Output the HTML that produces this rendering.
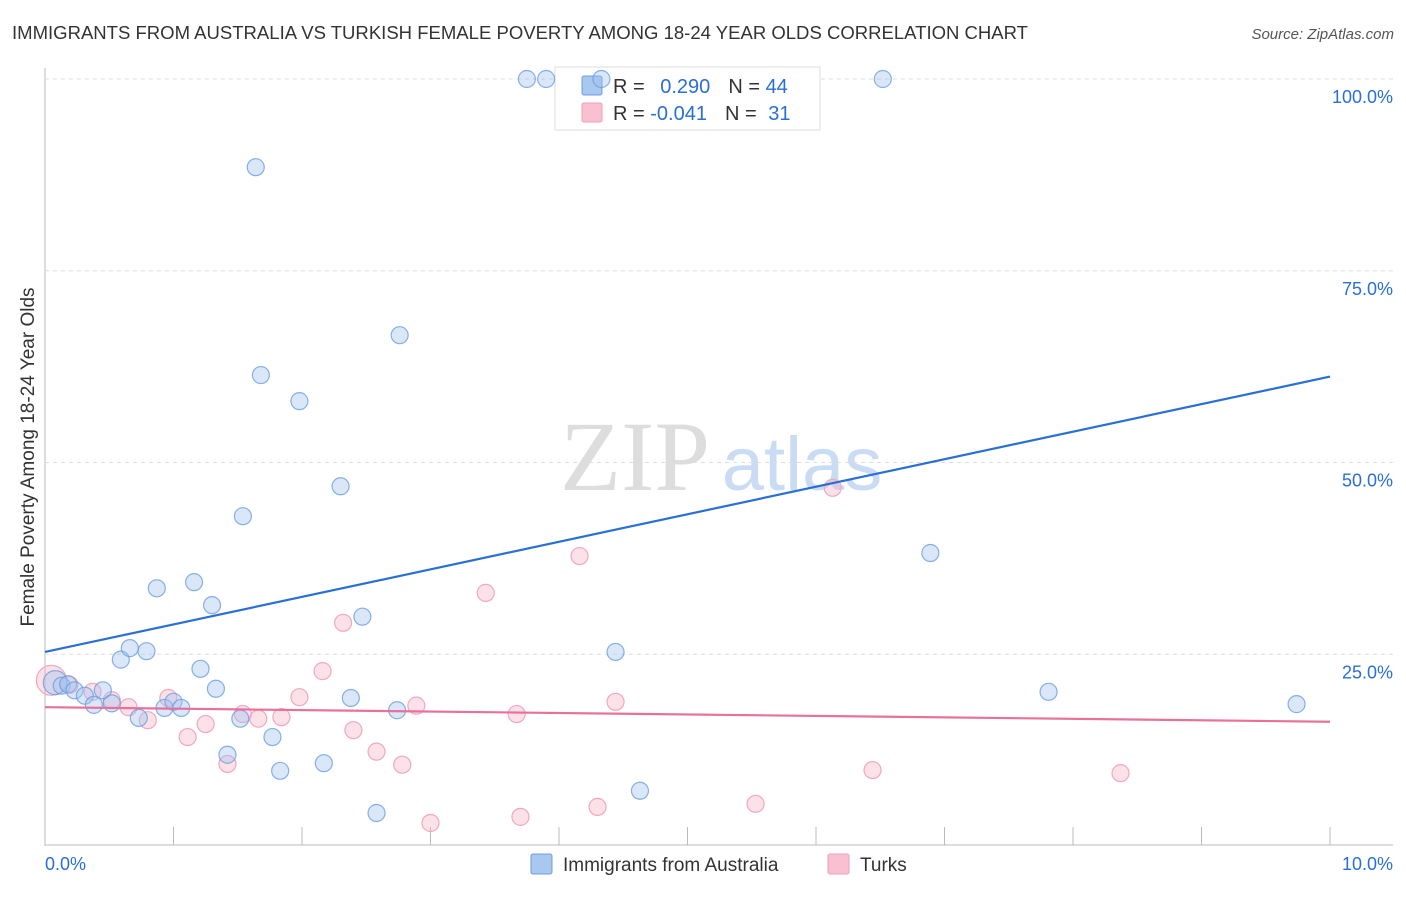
<!DOCTYPE html>
<html><head><meta charset="utf-8"><style>
body{margin:0;background:#fff;font-family:"Liberation Sans",sans-serif}
</style></head><body>
<svg width="1406" height="892" viewBox="0 0 1406 892" id="c" font-family="Liberation Sans, sans-serif">
<text x="12" y="39" font-size="18" fill="#333" textLength="1016" lengthAdjust="spacingAndGlyphs">IMMIGRANTS FROM AUSTRALIA VS TURKISH FEMALE POVERTY AMONG 18-24 YEAR OLDS CORRELATION CHART</text>
<text x="1394" y="39" font-size="15" fill="#555" font-style="italic" text-anchor="end">Source: ZipAtlas.com</text>
<text x="635" y="490" font-size="100" fill="#ddd" style="font-family:'Liberation Serif',serif" text-anchor="middle">ZIP</text>
<text x="802" y="490" font-size="76" fill="#c9dcf3" text-anchor="middle">atlas</text>
<text transform="translate(34,457) rotate(-90)" font-size="19" fill="#333" text-anchor="middle">Female Poverty Among 18-24 Year Olds</text>
<g id="grid"></g>
<g>
<rect x="555" y="67" width="265" height="63" fill="#fff" stroke="#ddd"/>
<rect x="582" y="76" width="20" height="19" fill="#a8c8f0" stroke="#6c9de0" rx="2"/>
<rect x="582" y="103" width="20" height="19" fill="#f8c0d0" stroke="#f0a0b8" rx="2"/>
<text x="613" y="93" font-size="20" fill="#333">R = <tspan fill="#2a6fd6" dx="10">0.290</tspan><tspan fill="#333" dx="18">N = </tspan><tspan fill="#2a6fd6">44</tspan></text>
<text x="613" y="120" font-size="20" fill="#333">R = <tspan fill="#2a6fd6">-0.041</tspan><tspan fill="#333" dx="18">N = </tspan><tspan fill="#2a6fd6" dx="6">31</tspan></text>
</g>
<g id="pts"></g><g id="lines"></g>
<g>
<rect x="531" y="854" width="21" height="20" fill="#a8c8f0" stroke="#6c9de0" rx="2"/>
<text x="563" y="871" font-size="19" fill="#333">Immigrants from Australia</text>
<rect x="828" y="854" width="21" height="20" fill="#f8c0d0" stroke="#f0a0b8" rx="2"/>
<text x="860" y="871" font-size="19" fill="#333">Turks</text>
</g>
</svg>
<script>
const yTicks=[25,50,75,100];
const yTickLabels=["25.0%","50.0%","75.0%","100.0%"];
const xTicks=[0,1,2,3,4,5,6,7,8,9,10];
const xTickLabels=["0.0%","10.0%"];
const blueX=[0.08,0.13,0.18,0.23,0.31,0.38,0.45,0.52,0.59,0.66,0.73,0.79,0.87,0.93,1.00,1.06,1.16,1.21,1.30,1.33,1.42,1.52,1.54,1.64,1.68,1.77,1.83,1.98,2.17,2.30,2.38,2.47,2.58,2.74,2.76,3.75,3.90,4.33,4.44,4.63,6.52,6.89,7.81,9.74];
const blueY=[21.3,20.9,21.1,20.3,19.6,18.4,20.3,18.6,24.3,25.8,16.7,25.4,33.6,18.0,18.8,18.0,34.4,23.1,31.4,20.5,11.9,16.6,43.0,88.5,61.4,14.2,9.8,58.0,10.8,46.9,19.3,29.9,4.3,17.7,66.6,100,100,100,25.3,7.2,100,38.2,20.1,18.5];
const pinkX=[0.05,0.19,0.37,0.52,0.65,0.80,0.96,1.11,1.25,1.42,1.54,1.66,1.84,1.98,2.16,2.32,2.40,2.58,2.78,2.89,3.00,3.43,3.67,3.70,4.16,4.30,4.44,5.53,6.13,6.44,8.37];
const pinkY=[21.6,21.0,20.1,19.0,18.1,16.4,19.3,14.2,15.9,10.7,17.2,16.6,16.8,19.4,22.8,29.1,15.1,12.3,10.6,18.3,3.0,33.0,17.2,3.8,37.8,5.1,18.8,5.5,46.7,9.9,9.5];
const blueTrend=[25.3,61.2];
const pinkTrend=[18.1,16.2];
const X=v=>45+v*128.5, Y=v=>846-v*7.67;
const NS="http://www.w3.org/2000/svg";
function mk(t,a,p){const e=document.createElementNS(NS,t);for(const k in a)e.setAttribute(k,a[k]);p.appendChild(e);return e;}
const g=document.getElementById('grid');
let e=mk('line',{x1:45,y1:68,x2:45,y2:846,stroke:'#bbb'},g);


e=mk('line',{x1:45,y1:845,x2:1393,y2:845,stroke:'#bbb'},g);


yTicks.forEach((t,i)=>{
 e=mk('line',{x1:45,y1:Y(t),x2:1393,y2:Y(t),stroke:'#ddd','stroke-dasharray':'4,4'},g);
 
 
 e=mk('text',{x:1393,y:Y(t)+24,'font-size':18,fill:'#2a6fd6','text-anchor':'end'},g);e.textContent=yTickLabels[i];
 
 
});
xTicks.forEach(t=>{if(t===0)return;
 e=mk('line',{x1:X(t),y1:827,x2:X(t),y2:845,stroke:'#bbb'},g);
 
 
});
e=mk('text',{x:45,y:870,'font-size':18,fill:'#2a6fd6'},g);e.textContent=xTickLabels[0];


e=mk('text',{x:1393,y:870,'font-size':18,fill:'#2a6fd6','text-anchor':'end'},g);e.textContent=xTickLabels[1];


const p=document.getElementById('pts');
pinkX.forEach((x,i)=>{e=mk('circle',{cx:X(x),cy:Y(pinkY[i]),r:i===0?15:8.5,fill:'rgba(248,180,200,0.4)',stroke:'#f0a8bf','stroke-width':1.2},p);
 
 });
blueX.forEach((x,i)=>{e=mk('circle',{cx:X(x),cy:Y(blueY[i]),r:i===0?12:8.5,fill:'rgba(160,196,240,0.4)',stroke:'#6c9de0','stroke-width':1.2,'stroke-opacity':0.8},p);
 
 });
const l=document.getElementById('lines');
e=mk('line',{x1:X(0),y1:Y(blueTrend[0]),x2:X(10),y2:Y(blueTrend[1]),stroke:'#2a6fd6','stroke-width':2.2},l);


e=mk('line',{x1:X(0),y1:Y(pinkTrend[0]),x2:X(10),y2:Y(pinkTrend[1]),stroke:'#e8709a','stroke-width':2.2},l);


</script>
</body></html>
